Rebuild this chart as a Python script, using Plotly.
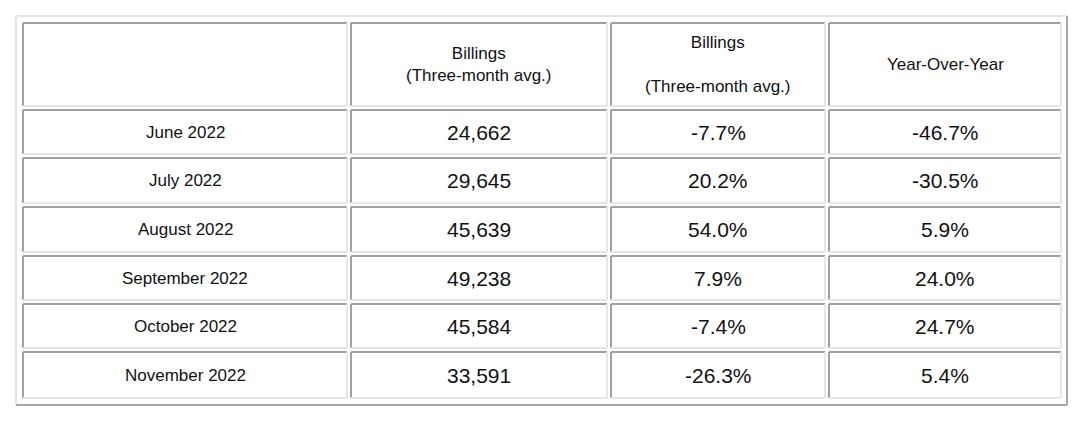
import plotly.graph_objects as go

months = ["June 2022", "July 2022", "August 2022", "September 2022", "October 2022", "November 2022"]
billings = ["24,662", "29,645", "45,639", "49,238", "45,584", "33,591"]
mom = ["-7.7%", "20.2%", "54.0%", "7.9%", "-7.4%", "-26.3%"]
yoy = ["-46.7%", "-30.5%", "5.9%", "24.0%", "24.7%", "5.4%"]
headers = ["", "Billings<br>(Three-month avg.)", "Month-Over-Month", "Year-Over-Year"]

W, H = 1080, 429
OFF = 8  # page body margin
col_edges = [21, 349, 609, 827, 1063]
row_edges = [21, 108, 156, 205, 254, 302, 350, 400]
gap = 2

fig = go.Figure()
shapes = []
annotations = []

# outer table frame (outset)
shapes.append(dict(type="line", x0=16, y0=16, x1=1067, y1=16, line=dict(color="#e4e4e4", width=2)))
shapes.append(dict(type="line", x0=16, y0=16, x1=16, y1=405, line=dict(color="#e4e4e4", width=2)))
shapes.append(dict(type="line", x0=16, y0=405, x1=1067, y1=405, line=dict(color="#a8a8a8", width=2)))
shapes.append(dict(type="line", x0=1067, y0=16, x1=1067, y1=405, line=dict(color="#a8a8a8", width=2)))

rows = [headers] + [[m, b, mm, yy] for m, b, mm, yy in zip(months, billings, mom, yoy)]
for r, row in enumerate(rows):
    y0 = row_edges[r] + gap
    y1 = row_edges[r + 1] - gap
    for c, txt in enumerate(row):
        x0 = col_edges[c] + gap
        x1 = col_edges[c + 1] - gap
        # inset cell border
        shapes.append(dict(type="line", x0=x0, y0=y0, x1=x1, y1=y0, line=dict(color="#a0a0a0", width=2)))
        shapes.append(dict(type="line", x0=x0, y0=y0, x1=x0, y1=y1, line=dict(color="#a0a0a0", width=2)))
        shapes.append(dict(type="line", x0=x0, y0=y1, x1=x1, y1=y1, line=dict(color="#e6e6e6", width=2)))
        shapes.append(dict(type="line", x0=x1, y0=y0, x1=x1, y1=y1, line=dict(color="#e6e6e6", width=2)))
        if txt:
            size = 17 if (r == 0 or c == 0) else 21
            annotations.append(dict(x=(x0 + x1) / 2, y=(y0 + y1) / 2, xref="x", yref="y",
                                    text=txt, showarrow=False,
                                    font=dict(family="Liberation Sans, Arial", size=size, color="#111111"),
                                    align="center"))

# header line spacing: Billings text is taller in the reference
annotations[1]["text"] = "Billings<br><br>(Three-month avg.)"
annotations[1]["font"] = dict(family="Liberation Sans, Arial", size=17, color="#111111")

fig.add_trace(go.Scatter(x=[OFF, W], y=[OFF, H], mode="markers", marker=dict(opacity=0), hoverinfo="skip"))
fig.update_layout(
    width=W - OFF, height=H - OFF, autosize=False,
    margin=dict(l=0, r=0, t=0, b=0),
    paper_bgcolor="white", plot_bgcolor="white",
    xaxis=dict(range=[OFF, W], visible=False, fixedrange=True),
    yaxis=dict(range=[H, OFF], visible=False, fixedrange=True),
    shapes=shapes, annotations=annotations, showlegend=False,
)
fig.write_html("out.html", config=dict(displayModeBar=False))
